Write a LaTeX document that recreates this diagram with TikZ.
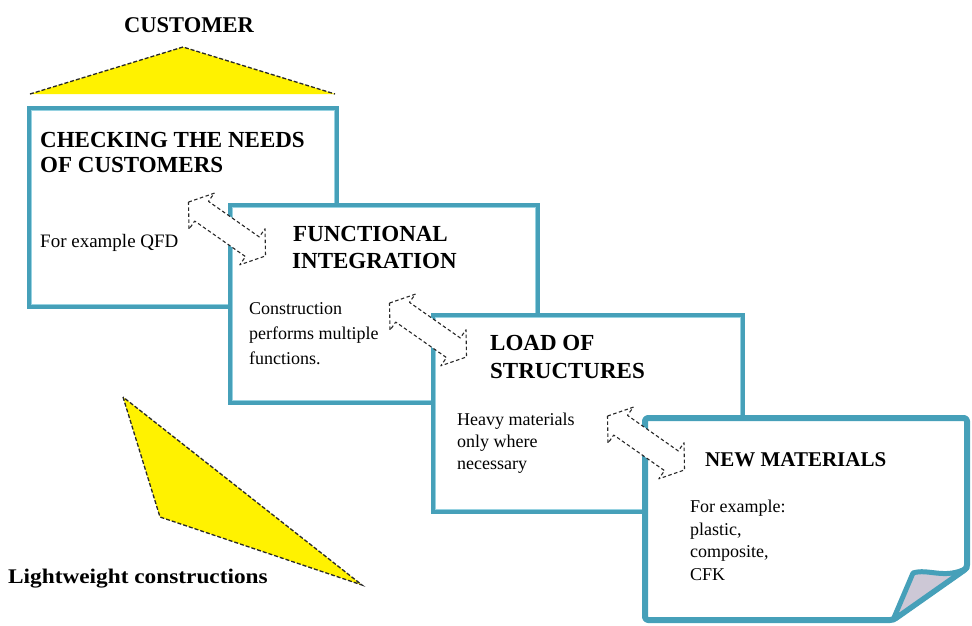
\documentclass[tikz,border=0pt]{standalone}
\usepackage{fontspec}
\setmainfont{Liberation Serif}
\newfontfamily\wideserif[FakeStretch=1.12]{Liberation Serif}
\definecolor{teal1}{RGB}{70,160,185}
\definecolor{teal2}{RGB}{150,210,225}
\definecolor{flapc}{RGB}{205,200,214}
\definecolor{dashc}{RGB}{40,40,40}
\tikzset{
  boxframe/.style={draw=teal1, line width=4.5, fill=white, inner sep=0},
  innerline/.style={draw=teal2, line width=1.2},
  head/.style={anchor=base west, inner sep=0, font=\fontsize{23}{25}\selectfont\bfseries},
  body/.style={anchor=base west, inner sep=0, font=\fontsize{18}{20}\selectfont},
  darrowline/.style={draw=dashc, line width=1.1, dash pattern=on 3.5 off 2.5, fill=white, line join=round},
  tri/.style={fill=yellow},
  triedge/.style={draw=dashc, line width=1.3, dash pattern=on 4 off 2},
}
\newcommand{\dblarrow}[1]{%
  \begin{scope}[shift={(#1)}, rotate=-35]
    \draw[darrowline] (-47,0) -- (-31,-22) -- (-31,-12) -- (31,-12) -- (31,-22) -- (47,0)
      -- (31,22) -- (31,12) -- (-31,12) -- (-31,22) -- cycle;
  \end{scope}}
\begin{document}
\begin{tikzpicture}[x=1pt,y=-1pt]
\useasboundingbox (0,0) rectangle (972,625);
\fill[white] (0,0) rectangle (972,625);

% top triangle
\node[anchor=base, inner sep=0, font=\fontsize{22.5}{24}\selectfont\bfseries] (cust) at (189,32) {CUSTOMER};
\coordinate (ta) at (183,47);
\coordinate (tl) at (30,94);
\coordinate (tr) at (335,94);
\fill[tri] (ta) -- (tr) -- (tl) -- cycle;
\draw[triedge] (tl) -- (ta) -- (tr);

% lower triangle
\coordinate (la) at (123,397);
\coordinate (lb) at (160,517);
\coordinate (lc) at (362,585);
\fill[tri] (la) -- (lb) -- (lc) -- cycle;
\draw[triedge] (la) -- (lb) -- (lc) -- cycle;
\node[anchor=base west, inner sep=0, font=\wideserif\fontsize{20.8}{22}\selectfont\bfseries] (lw) at (8,583) {Lightweight constructions};

% box 1
\node[boxframe, minimum width=308, minimum height=199] (b1) at (183,207.5) {};
\draw[innerline] ([shift={(4.5,4.5)}]b1.north west) rectangle ([shift={(-4.5,-4.5)}]b1.south east);
\node[head] (h1a) at (40,147) {CHECKING THE NEEDS};
\node[head] (h1b) at (40,172) {OF CUSTOMERS};
\node[body, font=\fontsize{19}{20}\selectfont] (t1) at (40,247) {For example QFD};

% box 2
\node[boxframe, minimum width=308, minimum height=198] (b2) at (384,304) {};
\draw[innerline] ([shift={(4.5,4.5)}]b2.north west) rectangle ([shift={(-4.5,-4.5)}]b2.south east);
\node[head] (h2a) at (293,241) {FUNCTIONAL};
\node[head] (h2b) at (292,268) {INTEGRATION};
\node[body] (t2a) at (249,314) {Construction};
\node[body] (t2b) at (249,339) {performs multiple};
\node[body] (t2c) at (249,364) {functions.};
\dblarrow{227,229}

% box 3
\node[boxframe, minimum width=310, minimum height=197] (b3) at (588,413.5) {};
\draw[innerline] ([shift={(4.5,4.5)}]b3.north west) rectangle ([shift={(-4.5,-4.5)}]b3.south east);
\node[head] (h3a) at (490,350) {LOAD OF};
\node[head] (h3b) at (490,378) {STRUCTURES};
\node[body] (t3a) at (457,425) {Heavy materials};
\node[body] (t3b) at (457,447) {only where};
\node[body] (t3c) at (457,469) {necessary};
\dblarrow{428,330}

% box 4 (page with folded corner)
\coordinate (p1) at (645,418);
\coordinate (p2) at (967,418);
\coordinate (p3) at (967,568);
\coordinate (p4) at (893,620);
\coordinate (p5) at (645,620);
\coordinate (pf) at (913,573);
\draw[draw=teal1, line width=6, fill=white, line join=round, rounded corners=3] (p1) -- (p2) -- (p3) -- (p4) -- (p5) -- cycle;
\draw[draw=teal1, line width=5, fill=flapc, line join=round] (p3) .. controls (945,580) and (928,568) .. (pf) -- (p4) -- cycle;
\node[head, font=\fontsize{21}{23}\selectfont\bfseries] (h4) at (705,466) {NEW MATERIALS};
\node[body] (t4a) at (690,512) {For example:};
\node[body] (t4b) at (690,535) {plastic,};
\node[body] (t4c) at (690,557) {composite,};
\node[body] (t4d) at (690,580) {CFK};
\dblarrow{646,443}
\end{tikzpicture}
\end{document}
